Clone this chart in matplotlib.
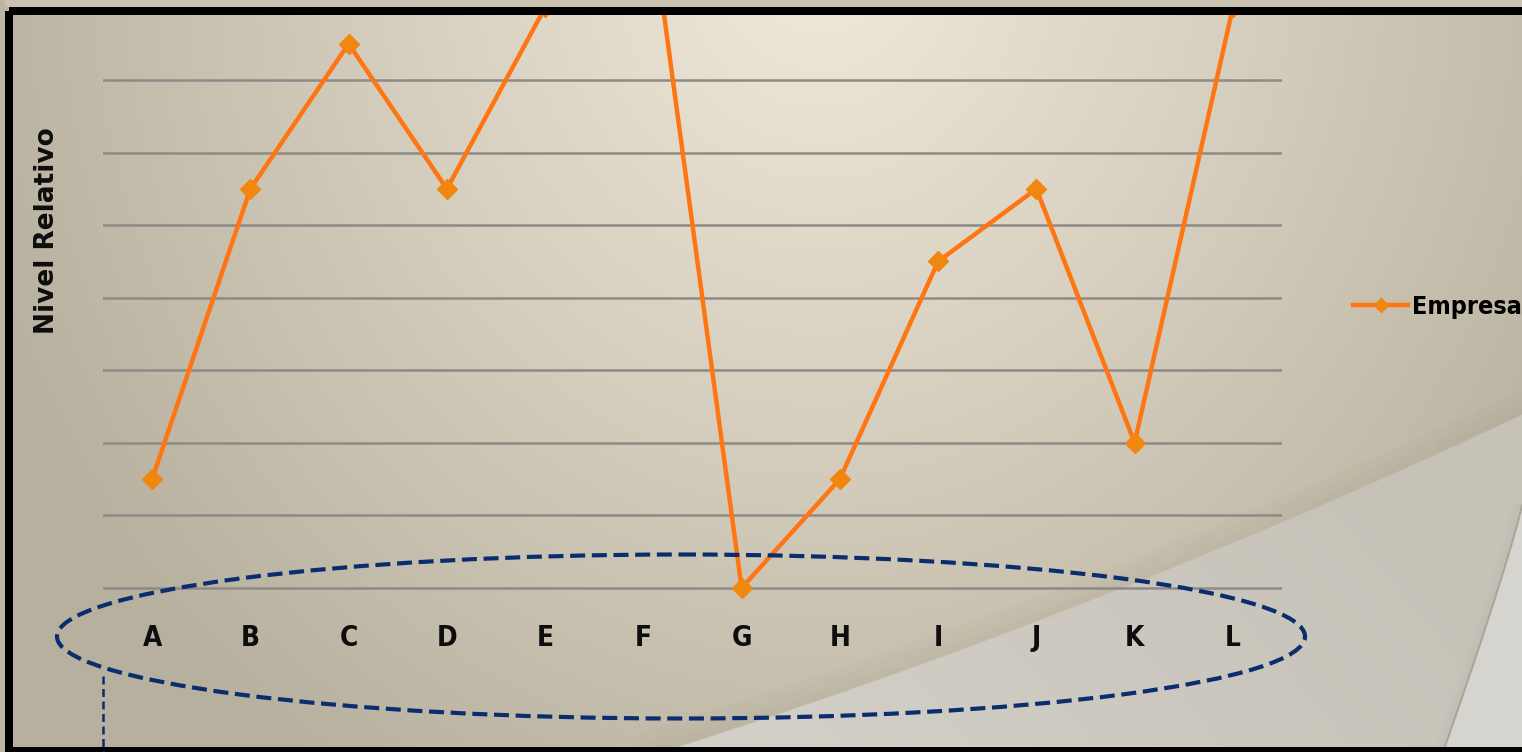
import numpy as np
import matplotlib
matplotlib.use('Agg')
import matplotlib.pyplot as plt
from matplotlib import font_manager
from matplotlib.font_manager import FontProperties
from matplotlib.patches import Ellipse, Rectangle, Polygon

# chart data
categories = ['A', 'B', 'C', 'D', 'E', 'F', 'G', 'H', 'I', 'J', 'K', 'L']
valores = [1.5, 5.5, 7.5, 5.5, 8.0, 10.0, 0.0, 1.5, 4.5, 5.5, 2.0, 8.0]
serie = 'Empresa'
y_label = 'Nivel Relativo'
grid_levels = [0, 1, 2, 3, 4, 5, 6, 7]

W, H = 1522, 752


def narrow_bold():
    # look for a bold condensed / narrow face among the installed fonts
    best = None
    for f in font_manager.fontManager.ttflist:
        w = f.weight if isinstance(f.weight, int) else 400
        if f.weight == 'bold':
            w = 700
        if w < 600 or 'italic' in f.style or 'oblique' in f.style:
            continue
        tag = (f.name + ' ' + str(f.stretch) + ' ' + f.fname).lower()
        if 'extra' in tag or 'ultra' in tag or 'semi' in tag or 'mono' in tag:
            continue
        if 'narrow' in tag or 'condensed' in tag:
            score = 0 if 'liberation' in tag else 1 if 'dejavu' in tag else 2
            if best is None or score < best[0]:
                best = (score, f.fname)
    return best[1] if best else None


cond_path = narrow_bold()
if cond_path:
    tick_font = FontProperties(fname=cond_path, size=20)
    leg_font = FontProperties(fname=cond_path, size=18)
else:
    tick_font = FontProperties(family='DejaVu Sans', weight='bold', size=17)
    leg_font = FontProperties(family='DejaVu Sans', weight='bold', size=14)

fig = plt.figure(figsize=(W / 100, H / 100), dpi=100)

# background (pixel coordinates, y downwards)
bg = fig.add_axes([0, 0, 1, 1], zorder=0)
bg.set_xlim(0, W)
bg.set_ylim(H, 0)
bg.axis('off')

yy, xx = np.mgrid[0:H, 0:W]
d = np.sqrt(((xx - 820) / 900.0) ** 2 + ((yy + 50) / 1000.0) ** 2)
t = np.clip(d, 0, 1)[..., None]
c0 = np.array([241, 234, 219]) / 255
c1 = np.array([184, 176, 158]) / 255
grad = c0 * (1 - t) + c1 * t
bg.imshow(grad, extent=(0, W, H, 0), aspect='auto', zorder=0)

# lower right swoosh
def curve(x):
    return -8.974e-5 * x ** 2 - 0.1960 * x + 921.2

xs = np.linspace(640, W, 200)
ys = curve(xs)
for k in range(1, 26):
    bg.plot(xs, ys - k, color='#8f8874', lw=1.5, alpha=0.06 * (1 - k / 26), zorder=1)
poly = Polygon(np.column_stack([np.r_[xs, W, 640], np.r_[ys, H, H]]),
               closed=True, facecolor='none', edgecolor='none')
bg.add_patch(poly)
tg = np.clip((xx - 600) / 1000.0 + (H - yy) / 1200.0, 0, 1)[..., None]
light = (np.array([213, 210, 203]) / 255) * (1 - tg) + (np.array([198, 194, 184]) / 255) * tg
im = bg.imshow(light, extent=(0, W, H, 0), aspect='auto', zorder=2)
im.set_clip_path(poly)

ys2 = np.linspace(505, H, 60)
xs2 = 1522 - 79 * ((ys2 - 505) / 247.0) ** 1.1
for k in range(1, 10):
    bg.plot(xs2 - k, ys2, color='#9a9484', lw=1.2, alpha=0.06 * (1 - k / 10), zorder=3)
bg.fill(np.r_[xs2, W], np.r_[ys2, H], color='#d6d4cf', zorder=3)
bg.plot(xs2, ys2, color='#aaa598', lw=1.5, zorder=3)

# chart
ax = fig.add_axes([103 / W, 152 / H, (1282 - 103) / W, (600 - 15) / H], zorder=1)
ax.patch.set_alpha(0)
ax.set_xlim(-0.5, len(categories) - 0.5)
ax.set_ylim(-12 / 72.57, 573 / 72.57)
for s in ax.spines.values():
    s.set_visible(False)
ax.set_yticks(grid_levels)
ax.set_yticklabels([])
ax.yaxis.grid(True, color='#8d8b87', lw=1.8)
ax.set_axisbelow(True)
ax.set_xticks(range(len(categories)))
ax.set_xticklabels(categories, fontproperties=tick_font, color='#0d0d0d')
ax.tick_params(length=0, pad=17)

ax.plot(range(len(categories)), valores, color='#ff7512', lw=3.2, marker='D',
        markersize=10, markerfacecolor='#f2870f', markeredgecolor='#f2870f',
        label=serie)

ax.legend(loc='center left', bbox_to_anchor=(1353 / W, 1 - 307 / H),
          bbox_transform=fig.transFigure, frameon=False, borderpad=0,
          borderaxespad=0, handlelength=2.2, handletextpad=0.15, numpoints=1,
          markerscale=0.7, prop=leg_font)

fig.text(47 / W, 1 - 231 / H, y_label, rotation=90, ha='center', va='center',
         fontsize=19, fontweight='bold', color='#0d0d0d')

# overlay: annotation ellipse and frame
ov = fig.add_axes([0, 0, 1, 1], zorder=2)
ov.patch.set_alpha(0)
ov.set_xlim(0, W)
ov.set_ylim(H, 0)
ov.axis('off')
ov.add_patch(Ellipse((681, 636.5), 1248, 164, facecolor='none', edgecolor='#0a2d6e',
                     lw=3, linestyle=(0, (3.6, 1.6))))
ov.plot([103, 103], [676, H], color='#0a2d6e', lw=1.8, linestyle=(0, (3.2, 1.8)))
ov.add_patch(Rectangle((0, 0), W, 7, facecolor='#c9c2b0', edgecolor='none'))
ov.add_patch(Rectangle((0, 0), 5, H, facecolor='#bdb6a4', edgecolor='none'))
ov.add_patch(Rectangle((9, 11), W + 40, 740, facecolor='none', edgecolor='black',
                       lw=8 * 0.72, clip_on=False))

fig.savefig('out.png', dpi=100)
